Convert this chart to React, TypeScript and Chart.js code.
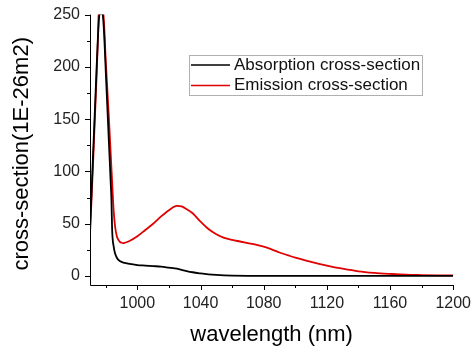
import React, { useEffect, useRef } from "react";
import { Chart, registerables } from "chart.js";

Chart.register(...registerables);

const absWavelength = [970, 972, 974, 975, 976, 977, 978, 979, 980, 981, 982, 983, 983.6, 984, 985, 986, 987, 988, 990, 992, 995, 1000, 1005, 1010, 1015, 1020, 1025, 1030, 1035, 1040, 1045, 1050, 1055, 1060, 1070, 1080, 1100, 1120, 1140, 1160, 1180, 1200];
const absValues = [44, 118, 192, 228, 250, 251, 250, 230, 195, 161, 127, 93, 72, 45, 28, 21, 17.5, 15.5, 13.5, 12.5, 11.5, 10.5, 10, 9.5, 9, 8, 7, 5.2, 3.6, 2.5, 1.6, 1, 0.6, 0.4, 0.2, 0.1, 0.1, 0.1, 0.1, 0.1, 0.1, 0.1];

const emiWavelength = [970, 972, 974, 975, 975.5, 976, 977, 978, 978.5, 980, 982, 984, 985, 986, 987, 988, 989, 990, 991, 992, 995, 1000, 1005, 1010, 1015, 1020, 1025, 1028, 1030, 1035, 1040, 1045, 1050, 1055, 1060, 1065, 1070, 1075, 1080, 1085, 1090, 1095, 1100, 1110, 1120, 1130, 1140, 1150, 1160, 1170, 1180, 1190, 1200];
const emiValues = [40, 110, 185, 225, 250, 252, 252, 252, 250, 205, 150, 90, 62, 46, 38, 34.5, 32.5, 31.8, 31.5, 31.8, 33.5, 38, 44, 50, 57, 63, 67, 66.5, 65, 60, 52, 45, 40, 36.5, 34.5, 33, 31.5, 30, 28, 25.5, 22.5, 20, 17.5, 13.5, 10, 7, 4.5, 3, 2, 1.2, 0.9, 0.7, 0.6];

const xTicks = [980, 1000, 1020, 1040, 1060, 1080, 1100, 1120, 1140, 1160, 1180, 1200];
const xMajor = [1000, 1040, 1080, 1120, 1160, 1200];
const yTicks = [0, 25, 50, 75, 100, 125, 150, 175, 200, 225, 250];
const yMajor = [0, 50, 100, 150, 200, 250];

const seriesNames = ["Absorption cross-section", "Emission cross-section"];
const seriesColors = ["#000000", "#e00000"];
const yTitle = "cross-section(1E-26m2)";

const FONT = "'Liberation Sans', Arial, sans-serif";

const axisPlugin = {
  id: "axisPlugin",
  afterDraw(chart: any) {
    const ctx = chart.ctx;
    const { left, right, top, bottom } = chart.chartArea;
    const xs = chart.scales.x;
    const ys = chart.scales.y;
    ctx.save();
    ctx.strokeStyle = "#000";
    ctx.lineWidth = 1;
    ctx.beginPath();
    ctx.moveTo(left + 0.5, top);
    ctx.lineTo(left + 0.5, bottom + 0.5);
    ctx.lineTo(right, bottom + 0.5);
    ctx.stroke();
    ctx.beginPath();
    xTicks.forEach((v) => {
      const p = Math.round(xs.getPixelForValue(v)) + 0.5;
      const len = xMajor.includes(v) ? 5 : 3;
      ctx.moveTo(p, bottom);
      ctx.lineTo(p, bottom + len);
    });
    yTicks.forEach((v) => {
      const p = Math.round(ys.getPixelForValue(v)) + 0.5;
      const len = yMajor.includes(v) ? 5 : 3;
      ctx.moveTo(left, p);
      ctx.lineTo(left - len, p);
    });
    ctx.stroke();

    // y title
    ctx.save();
    ctx.translate(22, (top + bottom) / 2 + 4);
    ctx.rotate(-Math.PI / 2);
    ctx.font = `22px ${FONT}`;
    ctx.textAlign = "center";
    ctx.textBaseline = "middle";
    ctx.fillStyle = "#000";
    ctx.fillText(yTitle, 0, 0);
    ctx.restore();

    // legend
    const bx = 189, by = 55, bw = 233, bh = 40;
    ctx.strokeStyle = "#b0b0b0";
    ctx.strokeRect(bx + 0.5, by + 0.5, bw, bh);
    ctx.font = `17px ${FONT}`;
    ctx.textBaseline = "middle";
    ctx.fillStyle = "#111";
    seriesNames.forEach((name, i) => {
      const y = by + 10 + i * 20.5;
      ctx.strokeStyle = seriesColors[i];
      ctx.lineWidth = 1.5;
      ctx.beginPath();
      ctx.moveTo(bx + 2, y);
      ctx.lineTo(bx + 41, y);
      ctx.stroke();
      ctx.fillText(name, bx + 45, y);
    });
    ctx.restore();
  },
};

export default function App() {
  const ref = useRef<HTMLCanvasElement | null>(null);
  useEffect(() => {
    document.body.style.margin = "0";
    const canvas = ref.current!;
    const chart = new Chart(canvas, {
      type: "line",
      data: {
        datasets: [
          {
            label: seriesNames[0],
            data: absWavelength.map((x, i) => ({ x, y: absValues[i] })),
            borderColor: seriesColors[0],
            borderWidth: 1.8,
            pointRadius: 0,
            cubicInterpolationMode: "monotone",
          },
          {
            label: seriesNames[1],
            data: emiWavelength.map((x, i) => ({ x, y: emiValues[i] })),
            borderColor: seriesColors[1],
            borderWidth: 1.8,
            pointRadius: 0,
            cubicInterpolationMode: "monotone",
          },
        ],
      },
      options: {
        animation: false,
        responsive: false,
        layout: { padding: { top: 14, right: 19, left: 0, bottom: 0 } },
        plugins: { legend: { display: false }, tooltip: { enabled: false } },
        scales: {
          x: {
            type: "linear",
            min: 970,
            max: 1200,
            afterBuildTicks: (s: any) => {
              s.ticks = xTicks.map((v) => ({ value: v }));
            },
            afterFit: (s: any) => {
              s.height = 68;
            },
            grid: { display: false, drawTicks: true, tickLength: 5 },
            border: { display: false },
            ticks: {
              autoSkip: false,
              maxRotation: 0,
              padding: 4,
              color: "#222",
              font: { family: FONT, size: 16 },
              callback: (v: any) => (xMajor.includes(Number(v)) ? String(v) : ""),
            },
            title: {
              display: true,
              text: "wavelength (nm)",
              color: "#000",
              font: { family: FONT, size: 22 },
              padding: { top: 0, bottom: 5 },
            },
          },
          y: {
            type: "linear",
            min: -8.6,
            max: 250,
            afterBuildTicks: (s: any) => {
              s.ticks = yTicks.map((v) => ({ value: v }));
            },
            afterFit: (s: any) => {
              s.width = 90;
            },
            grid: { display: false, drawTicks: true, tickLength: 5 },
            border: { display: false },
            ticks: {
              autoSkip: false,
              padding: 5,
              color: "#222",
              font: { family: FONT, size: 16 },
              callback: (v: any) => (yMajor.includes(Number(v)) ? String(v) : ""),
            },
            title: { display: false },
          },
        },
      },
      plugins: [axisPlugin],
    } as any);
    return () => chart.destroy();
  }, []);
  return <canvas ref={ref} width={475} height={353} style={{ display: "block" }} />;
}
